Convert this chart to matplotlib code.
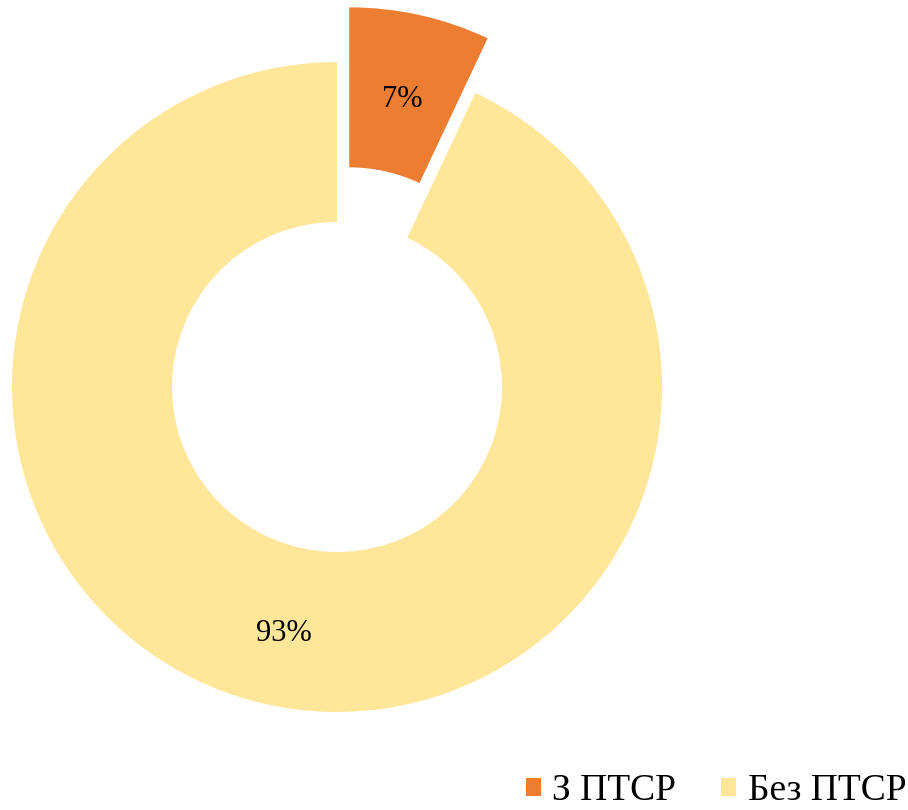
import matplotlib.pyplot as plt

plt.rcParams['font.family'] = ['Liberation Serif', 'DejaVu Serif']

labels = ['З ПТСР', 'Без ПТСР']
shares = [7, 93]
colors = ['#ED7D31', '#FFE699']

fig = plt.figure(figsize=(9.08, 8.10), dpi=100)
ax = fig.add_axes([0, 0, 1, 1])

# donut in pixel units, first slice pulled out towards the top
wedges, _, autotexts = ax.pie(
    shares, colors=colors, startangle=90, counterclock=False,
    center=(337, 423), radius=325, explode=[56, 0],
    wedgeprops=dict(width=160, linewidth=0),
    autopct='%1.0f%%', pctdistance=0.755,
    textprops=dict(fontsize=22, color='black'),
    frame=True,
)
for t in autotexts:
    x, y = t.get_position()
    t.set_position((x, y - 7))

ax.set_xlim(0, 908)
ax.set_ylim(0, 810)
ax.set_aspect('equal')
ax.axis('off')

fig.legend(wedges, labels, loc='lower right', bbox_to_anchor=(0.998, 0.002),
           ncol=2, frameon=False, fontsize=27, handlelength=0.4,
           handleheight=0.4, handletextpad=0.3, columnspacing=1.2,
           borderpad=0, borderaxespad=0)

fig.savefig('out.png', dpi=100)
